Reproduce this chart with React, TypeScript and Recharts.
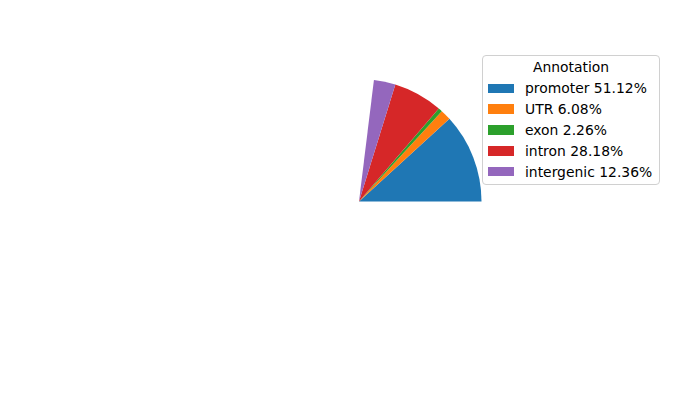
import React from "react";
import { PieChart, Pie, Cell, Legend } from "recharts";

const categories = ["promoter", "UTR", "exon", "intron", "intergenic"];
const percents = [51.12, 6.08, 2.26, 28.18, 12.36];
const colors = ["#1f77b4", "#ff7f0e", "#2ca02c", "#d62728", "#9467bd"];
const legendTitle = "Annotation";

const data = categories.map((name, i) => ({ name, value: percents[i] }));

const FONT = "'DejaVu Sans', sans-serif";

const LegendBox = () => (
  <div
    style={{
      boxSizing: "border-box",
      width: 178,
      height: 130,
      border: "1px solid #d0d0d0",
      borderRadius: 4,
      background: "rgba(255,255,255,0.8)",
      fontFamily: FONT,
      fontSize: 13.9,
      color: "#000",
      paddingTop: 1,
      paddingLeft: 5,
    }}
  >
    <div style={{ height: 21, lineHeight: "21px", textAlign: "center", paddingRight: 5 }}>
      {legendTitle}
    </div>
    {categories.map((c, i) => (
      <div
        key={c}
        style={{ height: 20.8, display: "flex", alignItems: "center", whiteSpace: "nowrap" }}
      >
        <span
          style={{
            display: "inline-block",
            width: 26,
            height: 9.5,
            background: colors[i],
            marginRight: 11,
          }}
        />
        <span>{`${c} ${percents[i].toFixed(2)}%`}</span>
      </div>
    ))}
  </div>
);

export default function App() {
  return (
    <div style={{ position: "absolute", left: 0, top: 0, width: 700, height: 400, background: "#fff" }}>
      <PieChart width={700} height={400} margin={{ top: 0, right: 0, bottom: 0, left: 0 }}>
        <Pie
          data={data}
          dataKey="value"
          nameKey="name"
          cx={359}
          cy={201.5}
          innerRadius={0}
          outerRadius={122.5}
          startAngle={0}
          endAngle={83}
          stroke="none"
          isAnimationActive={false}
          label={false}
          labelLine={false}
        >
          {data.map((d, i) => (
            <Cell key={d.name} fill={colors[i]} stroke="none" />
          ))}
        </Pie>
        <Legend
          content={() => <LegendBox />}
          wrapperStyle={{ left: 482, top: 55, width: 178, height: 130, bottom: "auto" }}
        />
      </PieChart>
    </div>
  );
}
